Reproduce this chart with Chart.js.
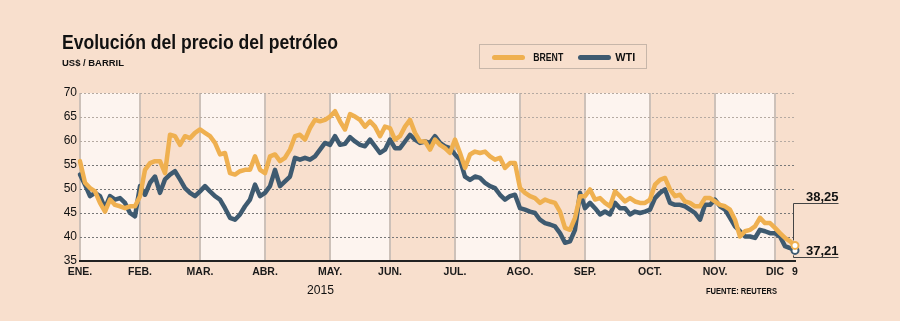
<!DOCTYPE html>
<html>
<head>
<meta charset="utf-8">
<script src="https://cdn.jsdelivr.net/npm/chart.js@4.4.0/dist/chart.umd.min.js"></script>
<style>
  html, body { margin: 0; padding: 0; background: #f8dfcd; }
  #wrap { position: relative; width: 900px; height: 321px; overflow: hidden;
          font-family: 'Liberation Sans Narrow', 'Liberation Sans', Arial, sans-serif; color: #111; }
  canvas { position: absolute; left: 0; top: 0; }
  .t { position: absolute; white-space: nowrap; line-height: 1; transform-origin: 0 0; }
  #title { left: 62px; top: 32px; font-size: 20px; font-weight: bold; font-family: 'Liberation Sans', Arial, sans-serif; }
  #sub { left: 62px; top: 58px; font-size: 9.5px; font-weight: bold; }
  #legend { position: absolute; left: 479px; top: 44px; width: 168px; height: 25px; box-sizing: border-box;
            border: 1px solid #c7b6a9; }
  .sw { position: absolute; top: 9.5px; height: 5px; border-radius: 3px; width: 33px; }
  .lt { position: absolute; top: 7px; font-size: 10px; font-weight: bold; }
  #year { left: 307px; top: 283.5px; font-size: 12.5px; }
  #src { left: 706px; top: 285.5px; font-size: 9.5px; font-weight: bold; }
</style>
</head>
<body>
<div id="wrap">
  <canvas id="c" width="900" height="321"></canvas>
  <div class="t" id="title">Evolución del precio del petróleo</div>
  <div class="t" id="sub">US$ / BARRIL</div>
  <div id="legend">
    <span class="sw" style="left:12px;background:#efb050"></span>
    <span class="lt" id="lb" style="left:51px">BRENT</span>
    <span class="sw" style="left:98px;background:#3e5a70"></span>
    <span class="lt" id="lw" style="left:136px">WTI</span>
  </div>
  <div class="t" id="year">2015</div>
  <div class="t" id="src">FUENTE: REUTERS</div>
</div>
<script>
// month labels and the sample index where each month starts
const monthLabels = ['ENE.', 'FEB.', 'MAR.', 'ABR.', 'MAY.', 'JUN.', 'JUL.', 'AGO.', 'SEP.', 'OCT.', 'NOV.', 'DIC'];
const monthStarts = [0, 12, 24, 37, 50, 62, 75, 88, 101, 114, 127, 139];
const lastLabel = '9';

// US$ per barrel, sampled along 2015 up to Dec 9
const brent = [
  55.8, 51.3, 50.2, 49.5, 47.1, 45.3, 47.8, 46.7, 46.4, 46.0, 46.4, 46.4,
  48.5, 54.0, 55.4, 55.8, 55.8, 53.3, 61.3, 61.0, 59.2, 61.0, 60.6, 61.7,
  62.4, 61.7, 61.0, 59.6, 57.2, 57.5, 53.3, 53.0, 53.7, 54.0, 54.0, 56.8, 54.0,
  53.3, 56.8, 57.2, 55.8, 56.5, 58.2, 61.0, 61.3, 60.3, 62.7, 64.4, 64.1, 64.4,
  65.1, 66.2, 64.1, 62.4, 65.6, 65.1, 64.4, 63.0, 64.1, 63.0, 61.0, 63.0,
  62.7, 60.3, 61.0, 63.0, 64.4, 61.7, 59.9, 59.9, 58.2, 60.3, 59.2, 58.5, 57.5,
  60.3, 57.5, 54.4, 57.2, 57.8, 57.5, 57.8, 56.8, 56.1, 56.5, 54.4, 55.4, 55.4,
  50.2, 49.2, 48.5, 48.1, 47.1, 47.8, 47.4, 47.1, 45.3, 41.9, 41.5, 44.0, 48.5,
  48.5, 49.9, 47.8, 48.1, 47.1, 46.4, 49.5, 48.5, 47.4, 48.1, 47.4, 47.1, 47.1,
  47.8, 50.9, 51.9, 52.3, 49.9, 48.5, 48.8, 47.4, 47.1, 46.4, 46.4, 48.1, 48.1,
  47.4, 46.7, 46.4, 45.7, 43.6, 40.1, 41.2, 41.5, 42.2, 44.0, 42.9, 42.9,
  41.9, 40.8, 39.8, 39.1, 38.25
];
const wti = [
  53.0, 50.9, 48.5, 49.2, 48.5, 46.0, 48.5, 47.8, 48.1, 47.1, 45.0, 44.3,
  50.6, 48.8, 51.3, 52.6, 49.2, 52.0, 53.0, 53.7, 52.0, 50.2, 49.2, 48.5,
  49.5, 50.6, 49.5, 48.5, 47.8, 46.0, 44.0, 43.6, 44.7, 46.4, 47.8, 50.9, 48.5,
  49.2, 50.6, 54.0, 50.6, 51.6, 52.6, 56.5, 56.1, 56.5, 56.1, 56.8, 58.2, 59.6,
  59.2, 61.0, 59.2, 59.4, 60.8, 59.9, 59.2, 58.9, 60.3, 58.9, 57.5, 58.2,
  60.3, 58.5, 58.5, 59.9, 61.3, 60.3, 59.6, 59.9, 59.6, 61.0, 59.6, 58.9, 58.5,
  57.2, 56.1, 52.6, 51.9, 52.6, 52.3, 51.3, 50.6, 50.2, 48.8, 47.8, 48.5, 48.8,
  46.0, 45.7, 45.3, 45.0, 43.6, 42.9, 42.6, 42.2, 40.8, 38.8, 39.1, 41.5, 49.2,
  46.0, 47.1, 46.0, 44.7, 45.3, 44.7, 47.1, 46.0, 46.0, 44.7, 45.3, 45.0, 45.3,
  45.7, 48.1, 49.2, 49.9, 47.1, 46.7, 46.7, 46.4, 45.7, 45.0, 43.6, 46.7, 46.7,
  47.8, 46.4, 45.7, 44.0, 42.2, 41.2, 40.1, 40.1, 39.8, 41.5, 41.2, 40.8,
  40.8, 40.1, 38.1, 37.7, 37.21
];
const yTicks = [35, 40, 45, 50, 55, 60, 65, 70];

const BRENT_C = '#efb050';
const WTI_C = '#3e5a70';
const last = brent.length - 1;

function fit(id, w) {
  const el = document.getElementById(id);
  const r = el.getBoundingClientRect().width;
  el.style.transform = 'scaleX(' + (w / r) + ')';
}
fit('title', 276);
fit('sub', 62);
fit('lb', 30);
fit('lw', 20);
fit('year', 27);
fit('src', 71);

const tickText = {};
monthStarts.forEach((s, k) => tickText[s] = monthLabels[k]);
tickText[last] = lastLabel;

const bands = {
  id: 'bands',
  beforeDraw(chart) {
    const { ctx, chartArea: a, scales: { x } } = chart;
    ctx.save();
    monthStarts.forEach((s, k) => {
      const x0 = x.getPixelForValue(s);
      const x1 = k + 1 < monthStarts.length ? x.getPixelForValue(monthStarts[k + 1]) : a.right;
      ctx.fillStyle = k % 2 === 0 ? '#fdf4ef' : '#f8dfcd';
      ctx.fillRect(x0, a.top, x1 - x0, a.bottom - a.top);
    });
    ctx.restore();
  }
};

const endLabels = {
  id: 'endLabels',
  afterDatasetsDraw(chart) {
    const { ctx } = chart;
    const pb = chart.getDatasetMeta(0).data[last];
    const pw = chart.getDatasetMeta(1).data[last];
    const fmt = v => v.toFixed(2).replace('.', ',');
    const topY = Math.round(pb.y - 42) + 0.5;
    const botY = Math.round(pw.y + 7) + 0.5;
    const x0 = Math.round(pb.x) - 1.5;
    const x1 = x0 + 45;
    ctx.save();
    ctx.strokeStyle = '#444';
    ctx.lineWidth = 1;
    ctx.beginPath();
    ctx.moveTo(x1, topY); ctx.lineTo(x0, topY); ctx.lineTo(x0, pb.y - 5);
    ctx.moveTo(x0, pw.y + 5); ctx.lineTo(x0, botY); ctx.lineTo(x1, botY);
    ctx.stroke();
    ctx.fillStyle = '#111';
    ctx.font = "bold 13px 'Liberation Sans', Arial, sans-serif";
    ctx.textAlign = 'right';
    ctx.textBaseline = 'alphabetic';
    ctx.fillText(fmt(brent[last]), x1, topY - 3);
    ctx.fillText(fmt(wti[last]), x1, botY - 3);
    ctx.restore();
  }
};

const endPoint = c => c.dataIndex === last ? 3.5 : 0;

new Chart(document.getElementById('c'), {
  type: 'line',
  data: {
    datasets: [
      {
        label: 'BRENT',
        data: brent.map((v, i) => ({ x: i, y: v })),
        borderColor: BRENT_C, borderWidth: 4.5,
        pointRadius: endPoint, pointBackgroundColor: '#fff',
        pointBorderColor: BRENT_C, pointBorderWidth: 2,
        borderJoinStyle: 'round', borderCapStyle: 'round', tension: 0, clip: false
      },
      {
        label: 'WTI',
        data: wti.map((v, i) => ({ x: i, y: v })),
        borderColor: WTI_C, borderWidth: 4.5,
        pointRadius: endPoint, pointBackgroundColor: '#fff',
        pointBorderColor: WTI_C, pointBorderWidth: 2,
        borderJoinStyle: 'round', borderCapStyle: 'round', tension: 0, clip: false
      }
    ]
  },
  options: {
    responsive: false,
    animation: false,
    devicePixelRatio: 1,
    layout: { padding: { left: 0, right: 105, top: 93, bottom: 0 } },
    plugins: { legend: { display: false }, tooltip: { enabled: false } },
    scales: {
      x: {
        type: 'linear', min: 0, max: last,
        afterBuildTicks: s => { s.ticks = monthStarts.concat([last]).map(v => ({ value: v })); },
        afterFit: s => { s.height = 60; },
        ticks: {
          autoSkip: false, maxRotation: 0, padding: 5, color: '#1a1a1a',
          font: { family: "'Liberation Sans Narrow', 'Liberation Sans', Arial, sans-serif", size: 10.5, weight: 'bold' },
          callback: v => tickText[v] || ''
        },
        grid: {
          drawTicks: false, lineWidth: 2,
          color: c => (c.tick && c.tick.value === last) ? 'rgba(0,0,0,0)' : '#cdc1b9'
        },
        border: { color: '#222', width: 2 }
      },
      y: {
        min: 35, max: 70,
        afterBuildTicks: s => { s.ticks = yTicks.map(v => ({ value: v })); },
        afterFit: s => { s.width = 80; },
        ticks: {
          padding: 3, color: '#111',
          font: { family: "'Liberation Sans', Arial, sans-serif", size: 12 }
        },
        grid: {
          drawTicks: false, lineWidth: 1,
          color: c => (c.tick && c.tick.value >= 60) ? '#b5aaa2' : '#777'
        },
        border: { display: false, dash: [2, 2] }
      }
    }
  },
  plugins: [bands, endLabels]
});
</script>
</body>
</html>
